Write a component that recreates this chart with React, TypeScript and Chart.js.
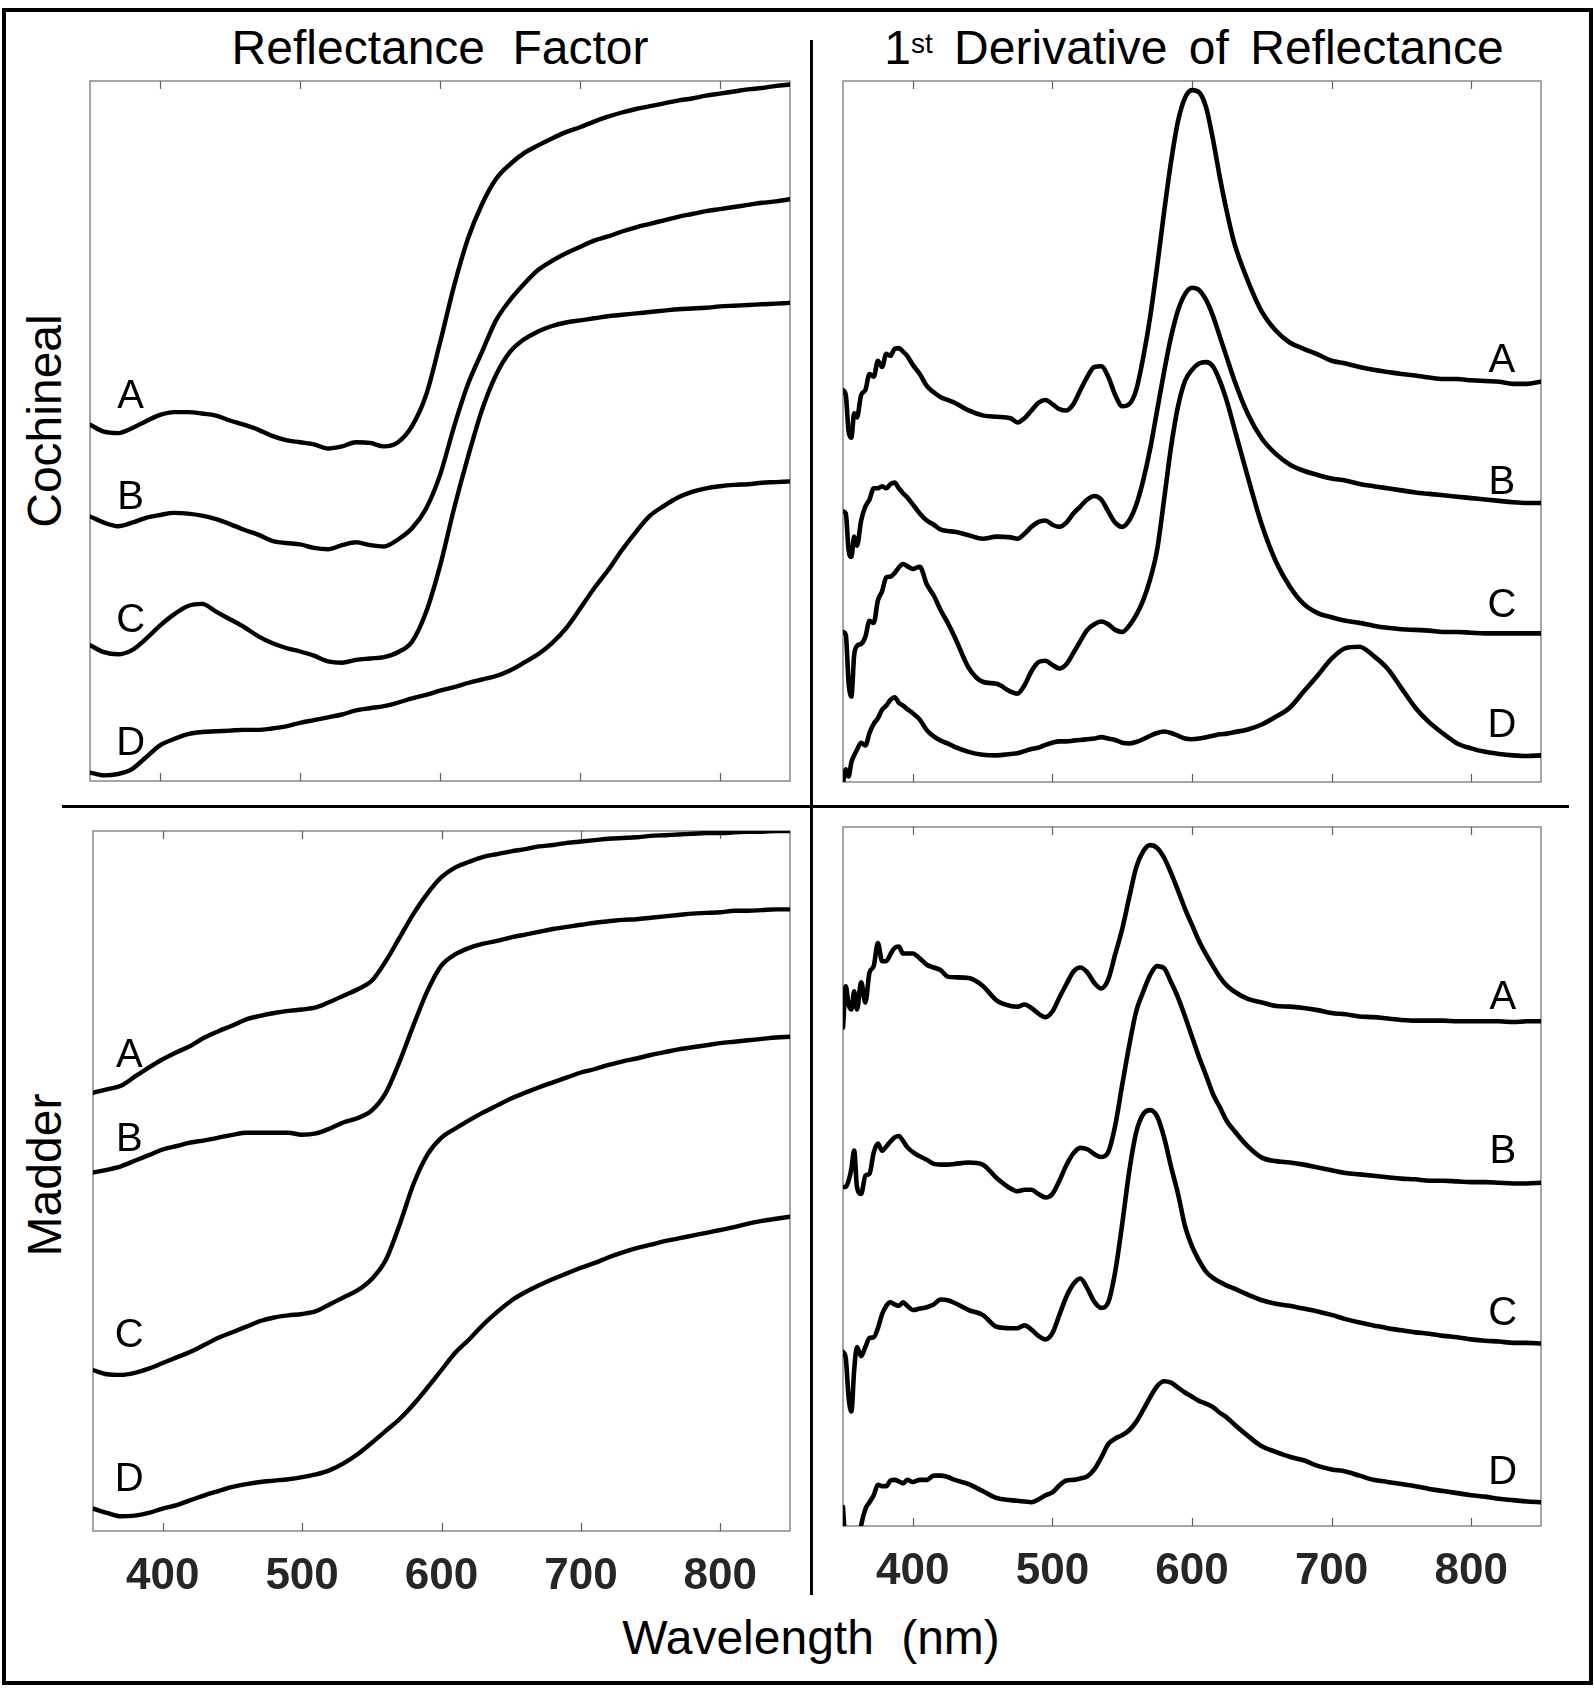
import React, { useEffect, useRef } from 'react';
import { Chart, registerables } from 'chart.js';

Chart.register(...registerables);

// ---------- data ----------
const reflWl = [350,360,370,380,390,400,410,420,430,440,450,460,470,480,490,500,510,520,530,540,550,560,570,580,590,600,610,620,630,640,650,660,670,680,690,700,710,720,730,740,750,760,770,780,790,800,810,820,830,840,850];

const derivWl = [350,352,354,356,358,360,363,366,369,372,375,378,381,384,387,390,393,396,400,405,410,415,420,425,430,440,450,460,470,475,480,485,490,495,500,505,510,515,520,525,530,535,540,545,550,555,560,565,570,575,580,585,590,595,600,605,610,615,620,625,630,640,650,660,670,680,690,700,710,720,730,740,750,760,770,780,790,800,810,820,830,840,850];

const xTicks = [400, 500, 600, 700, 800];
const curveNames = ['A', 'B', 'C', 'D'];

// Cochineal – reflectance factor (relative units, 0 = bottom of panel, 100 = top)
const cochRefA = [50.9,49.9,49.7,50.4,51.4,52.3,52.7,52.7,52.5,52.2,51.5,50.9,50.2,49.3,48.7,48.4,48.1,47.5,47.8,48.4,48.3,47.8,48.4,50.7,55.1,62.6,70.7,77.5,82.4,86.0,88.1,89.7,90.8,91.8,92.7,93.4,94.2,94.9,95.5,96.0,96.4,96.8,97.2,97.5,97.9,98.2,98.5,98.8,99.0,99.3,99.5];
const cochRefB = [37.8,36.9,36.4,36.9,37.6,38.0,38.3,38.2,37.9,37.4,36.7,35.9,35.2,34.3,34.0,33.8,33.3,33.1,33.7,34.1,33.7,33.5,34.5,36.1,38.9,43.7,50.6,56.7,61.3,65.8,68.7,71.0,73.0,74.3,75.4,76.3,77.2,77.8,78.5,79.1,79.6,80.1,80.6,81.0,81.4,81.7,82.0,82.3,82.6,82.8,83.1];
const cochRefC = [19.4,18.4,18.1,18.7,20.3,22.2,23.8,25.0,25.3,24.2,23.1,22.0,20.7,19.7,19.0,18.5,17.9,17.1,16.9,17.3,17.5,17.7,18.4,19.9,24.1,30.7,38.9,46.3,53.0,58.0,61.3,63.1,64.2,65.0,65.5,65.8,66.1,66.4,66.6,66.8,67.0,67.2,67.4,67.5,67.6,67.8,67.9,68.0,68.1,68.2,68.3];
const cochRefD = [1.2,0.8,1.0,1.7,3.4,5.1,6.0,6.7,7.0,7.1,7.2,7.3,7.3,7.5,7.8,8.3,8.7,9.1,9.5,10.1,10.4,10.7,11.2,11.8,12.3,12.9,13.4,14.0,14.5,15.0,15.8,16.9,18.1,19.7,21.8,24.6,27.5,30.1,33.0,35.6,37.9,39.3,40.5,41.3,41.8,42.1,42.3,42.4,42.6,42.7,42.8];

// Cochineal – 1st derivative of reflectance
const cochDerA = [55.9,55.2,50.0,49.1,52.6,52.0,55.2,55.9,58.2,57.8,60.1,59.2,61.1,60.8,61.8,61.9,61.4,60.8,59.5,58.2,56.5,55.6,54.9,54.5,54.1,53.0,52.3,52.1,51.9,51.3,51.9,53.0,54.1,54.5,53.9,53.2,53.0,53.9,55.9,57.8,59.2,59.3,57.8,55.2,53.6,53.9,55.9,60.5,66.3,73.5,81.3,88.5,94.3,97.6,98.7,98.4,96.3,91.7,86.2,81.3,77.1,71.5,67.1,64.4,62.7,61.8,61.0,60.1,59.7,59.2,58.8,58.5,58.2,58.0,57.7,57.5,57.5,57.3,57.2,57.1,56.8,56.8,57.1];
const cochDerB = [38.6,38.3,33.1,32.1,35.0,33.7,37.3,39.3,40.3,41.9,41.9,42.2,41.9,42.5,42.7,41.9,41.2,40.6,39.6,38.3,37.3,36.7,36.0,35.8,35.7,35.2,34.7,35.0,34.9,34.7,35.4,36.4,37.1,37.3,36.7,36.4,37.0,38.3,39.3,40.3,40.8,40.3,38.6,37.0,36.4,37.3,39.5,43.0,47.5,53.0,58.5,63.5,67.3,69.6,70.5,70.2,68.8,66.5,63.5,60.5,57.5,52.5,49.0,46.8,45.3,44.4,43.8,43.3,43.0,42.5,42.2,41.9,41.6,41.3,41.1,40.9,40.7,40.5,40.3,40.1,39.9,39.8,39.8];
const cochDerC = [21.4,21.0,14.2,12.2,18.1,19.4,19.7,20.7,23.0,22.7,25.9,27.2,29.2,29.3,29.8,30.6,31.1,30.8,30.4,30.7,28.2,26.6,24.5,22.7,20.7,16.3,14.3,14.0,12.9,12.6,13.8,15.8,17.1,17.3,16.7,16.2,16.8,18.4,20.1,21.7,22.5,22.9,22.5,21.7,21.4,22.3,23.8,25.9,28.9,33.1,40.3,47.8,53.6,57.2,58.8,59.7,59.9,59.3,57.2,54.3,50.7,43.5,36.7,31.5,27.9,25.4,24.1,23.5,23.0,22.7,22.3,22.0,21.8,21.7,21.6,21.4,21.4,21.3,21.2,21.2,21.2,21.2,21.2];
const cochDerD = [-0.1,1.8,0.8,2.8,3.8,4.6,5.6,5.2,7.0,8.3,9.1,10.3,10.9,11.7,12.1,11.3,10.9,10.4,9.8,8.9,7.4,6.5,5.9,5.5,5.0,4.3,3.9,3.8,4.0,4.1,4.4,4.7,4.9,5.3,5.6,5.8,5.8,5.9,6.0,6.1,6.2,6.4,6.2,6.0,5.6,5.5,5.7,6.1,6.6,7.0,7.2,7.0,6.6,6.2,6.1,6.2,6.4,6.6,6.8,6.9,7.1,7.5,8.2,9.3,10.6,12.9,15.2,17.6,19.1,19.3,18.0,16.2,13.4,10.6,8.5,6.9,5.5,4.8,4.3,4.0,3.8,3.7,3.8];

// Madder – reflectance factor
const madRefA = [62.6,63.1,63.6,64.9,66.2,67.4,68.4,69.3,70.5,71.4,72.2,73.1,73.6,74.0,74.3,74.5,74.8,75.6,76.5,77.4,78.6,81.4,84.8,88.2,91.1,93.4,94.8,95.6,96.3,96.7,97.1,97.4,97.8,98.0,98.3,98.5,98.7,98.9,99.0,99.1,99.3,99.4,99.5,99.6,99.7,99.7,99.8,99.9,99.9,100.0,100.0];
const madRefB = [51.2,51.6,52.1,52.9,53.7,54.5,55.0,55.5,55.8,56.2,56.6,56.9,56.9,56.9,56.9,56.6,56.8,57.5,58.4,59.0,60.1,62.6,67.1,72.3,77.2,80.8,82.4,83.3,83.9,84.3,84.8,85.2,85.6,86.0,86.3,86.6,86.9,87.1,87.3,87.4,87.6,87.8,88.0,88.2,88.3,88.4,88.6,88.6,88.7,88.8,88.8];
const madRefC = [23.0,22.4,22.3,22.6,23.2,24.0,24.8,25.6,26.6,27.6,28.4,29.2,30.0,30.5,30.8,31.0,31.4,32.4,33.4,34.4,36.0,38.7,43.8,49.6,53.8,56.2,57.5,58.7,59.8,60.8,61.8,62.6,63.4,64.1,64.8,65.5,66.0,66.6,67.1,67.5,68.0,68.4,68.8,69.1,69.4,69.7,69.9,70.1,70.3,70.5,70.6];
const madRefD = [3.2,2.6,2.1,2.2,2.6,3.2,3.7,4.4,5.1,5.7,6.3,6.7,7.0,7.2,7.4,7.7,8.1,8.7,9.7,11.0,12.6,14.3,16.0,18.1,20.5,23.0,25.5,27.4,29.5,31.3,32.9,34.1,35.1,36.0,36.8,37.6,38.3,39.1,39.8,40.4,40.9,41.4,41.8,42.2,42.6,43.0,43.4,43.9,44.3,44.6,44.9];

// Madder – 1st derivative of reflectance
const madDerA = [71.3,77.2,74.6,73.9,76.5,73.9,77.8,74.9,79.2,80.1,83.4,80.8,80.8,81.8,82.7,82.9,81.9,81.9,81.9,81.2,80.3,79.9,79.5,78.6,78.5,78.4,77.3,75.2,74.4,74.3,74.6,74.1,73.3,72.8,73.6,75.6,77.5,79.3,79.9,79.2,77.7,76.9,78.2,81.8,85.4,89.9,94.2,96.5,97.4,97.0,95.6,93.4,90.9,88.3,86.0,83.7,81.8,80.1,78.5,77.3,76.5,75.4,74.9,74.4,74.3,74.1,73.8,73.4,73.2,72.9,72.8,72.6,72.4,72.3,72.3,72.3,72.2,72.2,72.2,72.2,72.1,72.2,72.2];
const madDerB = [48.5,48.5,49.4,51.1,53.7,48.5,47.5,50.1,50.4,53.4,54.7,53.7,54.3,55.0,55.6,55.8,55.1,54.2,53.5,52.9,52.4,51.8,51.7,51.7,51.8,52.0,51.7,49.8,48.3,47.9,48.1,48.1,47.5,47.0,47.5,49.4,51.6,53.3,54.1,53.9,53.2,52.8,53.5,57.3,63.1,68.7,73.6,76.4,78.8,80.1,79.8,77.8,75.6,72.9,70.0,67.1,64.5,61.8,59.9,57.9,56.6,54.3,52.7,52.2,52.0,51.7,51.3,50.9,50.5,50.3,50.1,49.9,49.7,49.6,49.4,49.4,49.3,49.2,49.2,49.1,49.0,49.0,49.1];
const madDerC = [24.9,24.0,18.4,16.4,22.3,25.6,24.3,25.6,26.9,27.0,28.3,30.3,31.5,32.0,31.7,31.5,32.0,31.5,30.9,31.1,31.3,31.7,32.4,32.3,31.9,30.9,30.2,28.5,28.3,28.3,28.7,28.1,27.2,26.7,27.6,30.2,32.8,34.6,35.4,34.0,32.1,31.2,32.0,36.4,43.2,50.7,56.3,58.9,59.5,58.6,55.6,51.4,47.5,42.9,40.0,38.0,36.4,35.5,34.9,34.4,34.0,33.1,32.3,31.8,31.5,31.1,30.7,30.2,29.6,29.1,28.7,28.3,28.0,27.7,27.5,27.2,27.0,26.7,26.5,26.4,26.2,26.2,26.1];
const madDerD = [2.7,-3.8,-6.4,-6.4,-5.1,-3.8,0.1,2.4,3.4,4.4,5.9,5.7,5.7,6.5,6.6,6.4,6.1,6.6,6.3,6.6,6.6,7.2,7.2,7.0,6.6,6.0,5.0,4.0,3.7,3.6,3.5,3.4,3.8,4.4,4.8,5.8,6.5,6.6,6.8,7.1,8.1,9.8,11.7,12.5,13.0,13.7,14.9,16.6,18.4,20.0,20.7,20.5,19.8,19.1,18.5,17.9,17.5,17.0,16.2,15.5,14.6,12.9,11.4,10.6,9.9,9.4,8.6,8.1,7.8,7.2,6.6,6.3,6.0,5.7,5.3,5.0,4.7,4.4,4.2,3.9,3.7,3.5,3.4];

// Curve label anchors (wavelength, relative value)
const cochRefLabelWl = 379;
const cochRefLabelY = [55.4, 40.9, 23.3, 5.7];
const cochDerLabelWl = 822;
const cochDerLabelY = [60.5, 43.1, 25.6, 8.4];
const madRefLabelWl = 376;
const madRefLabelY = [68.3, 56.4, 28.3, 7.7];
const madDerLabelWl = 822.6;
const madDerLabelY = [76.0, 54.0, 30.8, 8.0];

// ---------- layout ----------
const FONT = '"Liberation Sans", Arial, Helvetica, sans-serif';
const PAD = 12;
const AXIS_H = 80;

type PanelDef = {
  left: number; top: number; width: number; height: number;
  wl: number[]; series: number[][]; labelWl: number; labelY: number[];
  showTicks: boolean; tickPad: number; lineW: number;
};

const panels: PanelDef[] = [
  { left: 90, top: 81, width: 700, height: 700, wl: reflWl, series: [cochRefA, cochRefB, cochRefC, cochRefD], labelWl: cochRefLabelWl, labelY: cochRefLabelY, showTicks: false, tickPad: 0, lineW: 4.4 },
  { left: 843, top: 81, width: 698, height: 701, wl: derivWl, series: [cochDerA, cochDerB, cochDerC, cochDerD], labelWl: cochDerLabelWl, labelY: cochDerLabelY, showTicks: false, tickPad: 0, lineW: 4.6 },
  { left: 93, top: 831, width: 697, height: 700, wl: reflWl, series: [madRefA, madRefB, madRefC, madRefD], labelWl: madRefLabelWl, labelY: madRefLabelY, showTicks: true, tickPad: 19, lineW: 4.4 },
  { left: 843, top: 827, width: 698, height: 699, wl: derivWl, series: [madDerA, madDerB, madDerC, madDerD], labelWl: madDerLabelWl, labelY: madDerLabelY, showTicks: true, tickPad: 19, lineW: 4.6 },
];

const panelDecor = {
  id: 'panelDecor',
  beforeDatasetsDraw(chart: any) {
    const { ctx, chartArea: a, scales } = chart;
    const x = scales.x;
    ctx.save();
    ctx.strokeStyle = '#808080';
    ctx.lineWidth = 1.4;
    ctx.strokeRect(a.left, a.top, a.right - a.left, a.bottom - a.top);
    ctx.beginPath();
    for (const t of xTicks) {
      const px = Math.round(x.getPixelForValue(t)) + 0.5;
      ctx.moveTo(px, a.top);
      ctx.lineTo(px, a.top + 8);
      ctx.moveTo(px, a.bottom);
      ctx.lineTo(px, a.bottom - 8);
    }
    ctx.lineWidth = 1.2;
    ctx.strokeStyle = '#606060';
    ctx.stroke();
    ctx.restore();
  },
  afterDatasetsDraw(chart: any, _args: any, opts: any) {
    const { ctx, scales } = chart;
    ctx.save();
    ctx.font = `40px ${FONT}`;
    ctx.fillStyle = '#000';
    ctx.textAlign = 'center';
    ctx.textBaseline = 'alphabetic';
    (opts.labelY as number[]).forEach((v, i) => {
      ctx.fillText(curveNames[i], scales.x.getPixelForValue(opts.labelWl), scales.y.getPixelForValue(v) + 14.3);
    });
    ctx.restore();
  },
};

function Panel({ p }: { p: PanelDef }) {
  const ref = useRef<HTMLCanvasElement>(null);
  const cw = p.width + 2 * PAD;
  const ch = PAD + p.height + (p.showTicks ? AXIS_H : PAD);
  useEffect(() => {
    const xScale: any = {
      type: 'linear',
      min: 350,
      max: 850,
      display: p.showTicks,
      grid: { display: false, drawTicks: false },
      border: { display: false },
      afterBuildTicks: (ax: any) => { ax.ticks = xTicks.map((v) => ({ value: v })); },
      ticks: {
        autoSkip: false,
        maxRotation: 0,
        padding: p.tickPad,
        color: '#262626',
        font: { family: FONT, size: 44, weight: 'bold' },
      },
    };
    if (p.showTicks) xScale.afterFit = (ax: any) => { ax.height = AXIS_H; };
    const chart = new Chart(ref.current as HTMLCanvasElement, {
      type: 'line',
      data: {
        datasets: p.series.map((s, i) => ({
          label: curveNames[i],
          data: p.wl.map((w, j) => ({ x: w, y: s[j] })),
          borderColor: '#000',
          borderWidth: p.lineW,
          pointRadius: 0,
          fill: false,
          cubicInterpolationMode: 'monotone' as const,
          borderJoinStyle: 'round' as const,
          borderCapStyle: 'round' as const,
        })),
      },
      options: {
        animation: false,
        responsive: false,
        maintainAspectRatio: false,
        events: [],
        layout: { padding: { left: PAD, right: PAD, top: PAD, bottom: p.showTicks ? 0 : PAD } },
        plugins: {
          legend: { display: false },
          tooltip: { enabled: false },
          panelDecor: { labelWl: p.labelWl, labelY: p.labelY },
        } as any,
        scales: {
          x: xScale,
          y: { type: 'linear', min: 0, max: 100, display: false },
        },
      },
      plugins: [panelDecor],
    });
    return () => chart.destroy();
  }, []);
  return (
    <canvas
      ref={ref}
      width={cw}
      height={ch}
      style={{ position: 'absolute', left: p.left - PAD, top: p.top - PAD, width: cw, height: ch }}
    />
  );
}

function Text({ cx, base, size, spacing, children }: { cx: number; base: number; size: number; spacing: number; children: React.ReactNode }) {
  return (
    <div
      style={{
        position: 'absolute', left: cx, top: base - 0.8465 * size, transform: 'translateX(-50%)',
        fontFamily: FONT, fontSize: size, lineHeight: `${size}px`, whiteSpace: 'nowrap', wordSpacing: spacing, color: '#000',
      }}
    >
      {children}
    </div>
  );
}

function RowLabel({ cx, cy, text }: { cx: number; cy: number; text: string }) {
  return (
    <div
      style={{
        position: 'absolute', left: cx, top: cy, transform: 'translate(-50%, -50%) rotate(-90deg)',
        fontFamily: FONT, fontSize: 48, lineHeight: '48px', whiteSpace: 'nowrap', color: '#000',
      }}
    >
      {text}
    </div>
  );
}

export default function App() {
  return (
    <div style={{ position: 'absolute', left: 0, top: 0, width: 1594, height: 1703, background: '#fff', overflow: 'hidden' }}>
      <div style={{ position: 'absolute', left: 2, top: 8, width: 1591, height: 1677, border: '4px solid #000', boxSizing: 'border-box' }} />
      <div style={{ position: 'absolute', left: 810, top: 40, width: 3, height: 1555, background: '#000' }} />
      <div style={{ position: 'absolute', left: 62, top: 805, width: 1507, height: 3, background: '#000' }} />
      <Text cx={440} base={65} size={48} spacing={14}>Reflectance Factor</Text>
      <Text cx={1194} base={65} size={48} spacing={8}>
        1<span style={{ fontSize: 28, position: 'relative', top: -11 }}>st</span> Derivative of Reflectance
      </Text>
      <RowLabel cx={44.5} cy={421} text="Cochineal" />
      <RowLabel cx={44.5} cy={1175} text="Madder" />
      <Text cx={811} base={1655} size={48} spacing={14}>Wavelength (nm)</Text>
      {panels.map((p, i) => <Panel key={i} p={p} />)}
    </div>
  );
}
